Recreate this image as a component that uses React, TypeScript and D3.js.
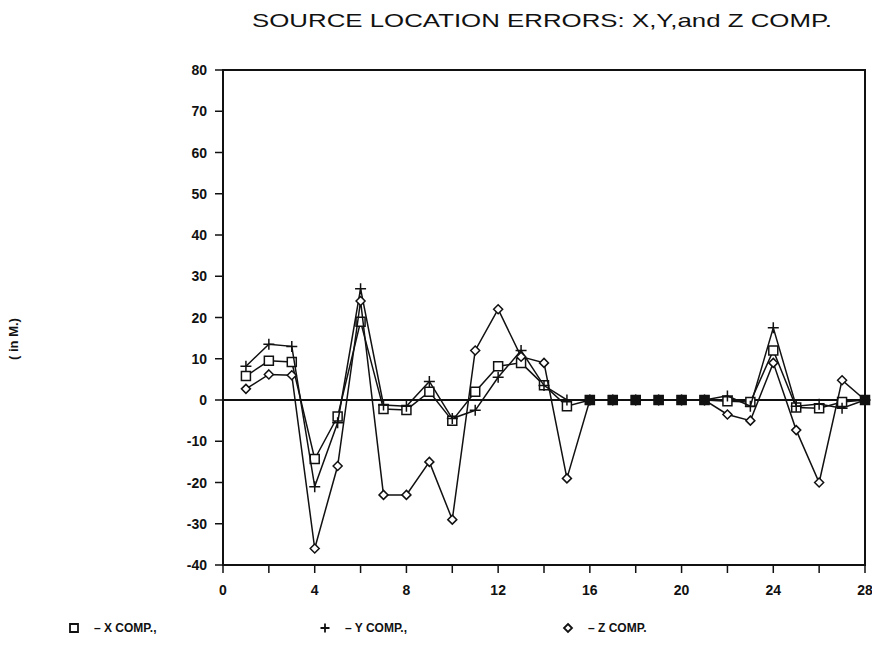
import React from "react";
import * as d3 from "d3";

const xs = [1, 2, 3, 4, 5, 6, 7, 8, 9, 10, 11, 12, 13, 14, 15, 16, 17, 18, 19, 20, 21, 22, 23, 24, 25, 26, 27, 28];
const xComp = [5.8, 9.5, 9.2, -14.3, -4, 19, -2.2, -2.4, 2, -5, 2, 8.2, 9, 3.6, -1.5, 0, 0, 0, 0, 0, 0, -0.3, -0.5, 12, -1.8, -2, -0.5, 0];
const yComp = [8.2, 13.5, 13, -21, -5.5, 27, -1.2, -1.5, 4.5, -4.5, -2.5, 5.5, 12, 3.5, 0, 0, 0, 0, 0, 0, 0, 1, -1.5, 17.5, -1.5, -1, -2, 0];
const zComp = [2.7, 6.2, 6, -36, -16, 24, -23, -23, -15, -29, 12, 22, 10.5, 9, -19, 0, 0, 0, 0, 0, 0, -3.5, -5, 9, -7.3, -20, 4.8, 0];
const xTicksMajor = [0, 4, 8, 12, 16, 20, 24, 28];
const xTicksMinor = [0, 2, 4, 6, 8, 10, 12, 14, 16, 18, 20, 22, 24, 26, 28];
const yTicks = [-40, -30, -20, -10, 0, 10, 20, 30, 40, 50, 60, 70, 80];
const legendLabels = ["\u2013 X COMP.,", "\u2013 Y COMP.,", "\u2013 Z COMP."];

const W = 872, H = 657;
const L = 223, R = 865, T = 70, B = 565;

const sqPath = (s: number) => `M${-s},${-s}H${s}V${s}H${-s}Z`;
const plusPath = (s: number) => `M${-s},0H${s}M0,${-s}V${s}`;
const diaPath = (s: number) => `M0,${-s}L${s},0L0,${s}L${-s},0Z`;

export default function App() {
  const x = d3.scaleLinear().domain([0, 28]).range([L, R]);
  const y = d3.scaleLinear().domain([-40, 80]).range([B, T]);
  const line = d3.line<number>().x((_, i) => x(xs[i])).y((d) => y(d));
  const font = "'Liberation Sans', Arial, sans-serif";
  const series = [
    { data: xComp, marker: sqPath(4.5), fill: "white" },
    { data: yComp, marker: plusPath(5.5), fill: "none" },
    { data: zComp, marker: diaPath(4.5), fill: "white" },
  ];
  return (
    <svg width={W} height={H} style={{ position: "absolute", left: 0, top: 0, background: "white" }}>
      <text x={252} y={27} fontFamily={font} fontSize={19} fill="#111" textLength={580} lengthAdjust="spacingAndGlyphs">
        SOURCE LOCATION ERRORS: X,Y,and Z COMP.
      </text>
      <text transform={`translate(18,339) rotate(-90)`} textAnchor="middle" fontFamily={font} fontSize={13} fontWeight="bold" fill="#111">
        ( in M.)
      </text>
      <rect x={L} y={T} width={R - L} height={B - T} fill="none" stroke="#111" strokeWidth={2} />
      <line x1={L} x2={R} y1={y(0)} y2={y(0)} stroke="#111" strokeWidth={2} />
      {yTicks.map((t) => (
        <g key={"y" + t}>
          <line x1={L - 8} x2={L} y1={y(t)} y2={y(t)} stroke="#111" strokeWidth={1.5} />
          <text x={L - 16} y={y(t) + 5} textAnchor="end" fontFamily={font} fontSize={14} fontWeight="bold" fill="#111">
            {t}
          </text>
        </g>
      ))}
      {xTicksMinor.map((t) => (
        <line key={"xm" + t} x1={x(t)} x2={x(t)} y1={B} y2={B + 8} stroke="#111" strokeWidth={1.5} />
      ))}
      {xTicksMajor.map((t) => (
        <text key={"xl" + t} x={x(t)} y={B + 30} textAnchor="middle" fontFamily={font} fontSize={14} fontWeight="bold" fill="#111">
          {t}
        </text>
      ))}
      {series.map((s, si) => (
        <g key={"s" + si}>
          <path d={line(s.data) || ""} fill="none" stroke="#111" strokeWidth={1.5} />
          {s.data.map((v, i) => (
            <path key={i} d={s.marker} transform={`translate(${x(xs[i])},${y(v)})`} fill={s.fill} stroke="#111" strokeWidth={1.5} />
          ))}
        </g>
      ))}
      {xs.map((xv, i) =>
        xComp[i] === 0 && yComp[i] === 0 && zComp[i] === 0 ? (
          <path key={"f" + i} d={sqPath(5)} transform={`translate(${x(xv)},${y(0)})`} fill="#111" />
        ) : null
      )}
      {legendLabels.map((lbl, i) => {
        const lx = [74, 325, 568][i];
        const marker = [sqPath(4), plusPath(4.5), diaPath(4)][i];
        return (
          <g key={"lg" + i}>
            <path d={marker} transform={`translate(${lx},628)`} fill="none" stroke="#111" strokeWidth={1.8} />
            <text x={lx + 20} y={632} fontFamily={font} fontSize={12} fontWeight="bold" fill="#111">
              {lbl}
            </text>
          </g>
        );
      })}
    </svg>
  );
}
